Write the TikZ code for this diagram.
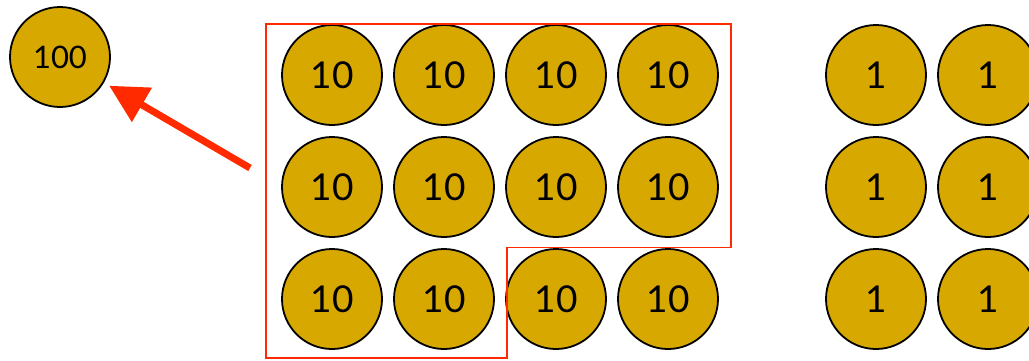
\documentclass[tikz,border=0pt]{standalone}
\usepackage{fontspec}
\setmainfont{Lato}
\usetikzlibrary{arrows.meta}
\definecolor{coin}{RGB}{214,168,0}
\definecolor{redline}{RGB}{255,42,0}
\begin{document}
\begin{tikzpicture}[x=1pt,y=-1pt,
  coinnode/.style={circle,draw=black,line width=1.8pt,fill=coin,minimum size=100pt,inner sep=0pt,font=\fontsize{37}{37}\selectfont},
  bignode/.style={coinnode,font=\fontsize{31}{31}\selectfont},
  grp/.style={draw=redline,line width=1.6pt},
  arr/.style={draw=redline,line width=7pt,-{Triangle[length=38pt,width=38pt]},shorten >=6pt}]
\useasboundingbox (0,0) rectangle (1029,360);
\node[bignode] (h) at (60,57) {100};
\foreach \r/\y in {1/75,2/187,3/299}{
  \foreach \c/\x in {1/332,2/444,3/556,4/668}{
    \node[coinnode] (t\r\c) at (\x,\y) {10};
  }
  \foreach \c/\x in {1/876,2/988}{
    \node[coinnode] (o\r\c) at (\x,\y) {1};
  }
}
\draw[grp] (266,24) -- (731,24) -- (731,247.5) -- (507,247.5) -- (507,358) -- (266,358) -- cycle;
\coordinate (tail) at (250,168);
\draw[arr] (tail) -- (h);
\end{tikzpicture}
\end{document}
